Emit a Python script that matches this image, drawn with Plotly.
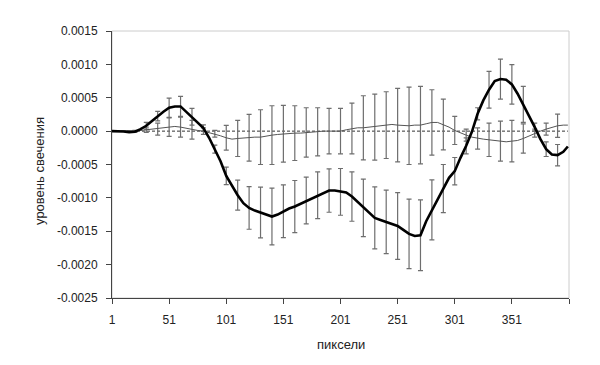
import plotly.graph_objects as go

# pixel positions of the sampled curve points
pixels = [1, 6, 11, 16, 21, 26, 31, 36, 41, 46, 51, 56, 61, 66, 71, 76, 81, 86, 91, 96,
          101, 106, 111, 116, 121, 126, 131, 136, 141, 146, 151, 156, 161, 166, 171, 176, 181, 186, 191, 196,
          201, 206, 211, 216, 221, 226, 231, 236, 241, 246, 251, 256, 261, 266, 271, 276, 281, 286, 291, 296,
          301, 306, 311, 316, 321, 326, 331, 336, 341, 346, 351, 356, 361, 366, 371, 376, 381, 386, 391, 396, 400]

# thick curve (x 1e-4)
thick_e4 = [0, 0, -0.05, -0.15, -0.1, 0.3, 0.8, 1.5, 2.25, 2.9, 3.5, 3.7, 3.7, 2.9, 2.15, 1.3, 0.45, -1.0, -2.7, -4.5,
            -6.7, -8.2, -9.6, -10.8, -11.5, -11.9, -12.2, -12.6, -12.8, -12.5, -12.0, -11.6, -11.3, -10.9, -10.4, -10.0, -9.6, -9.2, -8.9, -8.9,
            -9.1, -9.2, -9.8, -10.6, -11.5, -12.3, -13.0, -13.3, -13.6, -13.8, -14.2, -14.8, -15.4, -15.7, -15.6, -13.5, -11.8, -10.1, -8.6, -7.0,
            -6.0, -4.0, -2.2, -0.1, 2.6, 4.6, 6.2, 7.5, 7.8, 7.7, 7.0, 5.6, 4.0, 2.4, 0.6, -1.2, -2.7, -3.5, -3.6, -3.1, -2.3]

# thin curve (x 1e-4)
thin_e4 = [0, 0, 0, 0, 0, 0.1, 0.2, 0.3, 0.3, 0.5, 0.6, 0.7, 0.6, 0.4, 0.2, 0.1, 0.0, -0.2, -0.4, -0.7,
           -1.0, -1.2, -1.1, -1.0, -1.0, -0.9, -0.9, -0.7, -0.6, -0.5, -0.4, -0.3, -0.3, -0.3, -0.2, -0.1, -0.1, 0.0, 0.0, 0.0,
           0.0, 0.2, 0.4, 0.5, 0.5, 0.6, 0.6, 0.8, 0.9, 1.0, 0.9, 0.8, 0.8, 0.9, 0.9, 1.1, 1.3, 1.3, 1.0, 0.6,
           0.1, -0.3, -0.6, -0.9, -1.1, -1.2, -1.3, -1.4, -1.5, -1.6, -1.5, -1.4, -1.1, -0.7, -0.3, 0.0, 0.3, 0.6, 0.8, 0.9, 0.9]

# error bar half-lengths (x 1e-4) every 10 pixels: 1, 11, ..., 391
thick_err_e4 = [0, 0, 0.1, 0.5, 0.7, 1.45, 1.5, 1.25, 0.5, 0.6, 1.3, 2.25, 3.2, 3.8, 4.25, 3.95, 3.9, 3.5, 3.5, 3.25,
                3.5, 3.7, 4.3, 4.65, 4.75, 5.0, 5.2, 5.3, 4.5, 3.6, 2.05, 1.2, 0.9, 2.75, 3.0, 2.95, 2.7, 0.6, 1.1, 1.6]
thin_err_e4 = [0, 0, 0.1, 0.4, 0.9, 1.4, 1.5, 1.4, 0.5, 0.5, 1.85, 2.7, 3.5, 4.1, 4.4, 4.25, 4.1, 3.7, 3.6, 3.4,
               3.4, 3.8, 4.8, 4.95, 5.0, 5.5, 5.8, 5.8, 4.9, 3.8, 2.1, 0.9, 1.6, 2.5, 3.0, 3.1, 2.2, 0.6, 0.9, 1.75]

y_ticks = [0.0015, 0.0010, 0.0005, 0.0, -0.0005, -0.0010, -0.0015, -0.0020, -0.0025]
x_ticks = [1, 51, 101, 151, 201, 251, 301, 351, 401]
x_labels = ["1", "51", "101", "151", "201", "251", "301", "351", ""]

S = 1e-4
thick = [v * S for v in thick_e4]
thin = [v * S for v in thin_e4]
baseline = [0.0 for _ in pixels]

# points carrying error bars (every other sample -> every 10 pixels)
err_idx = list(range(0, 80, 2))
err_x = [pixels[i] for i in err_idx]
thick_err_y = [thick[i] for i in err_idx]
thin_err_y = [thin[i] for i in err_idx]
thick_err = [v * S for v in thick_err_e4]
thin_err = [v * S for v in thin_err_e4]

FONT = "Liberation Sans, Arial, sans-serif"
ERRC = "#6e6e6e"

fig = go.Figure()

fig.add_trace(go.Scatter(x=pixels, y=baseline, mode="lines",
                         line=dict(color="#333333", width=1, dash="3px,2px"), hoverinfo="skip"))
fig.add_trace(go.Scatter(x=err_x, y=thin_err_y, mode="markers", marker=dict(size=0.1, opacity=0),
                         error_y=dict(type="data", array=thin_err, visible=True, color=ERRC, thickness=1.2, width=2.5)))
fig.add_trace(go.Scatter(x=err_x, y=thick_err_y, mode="markers", marker=dict(size=0.1, opacity=0),
                         error_y=dict(type="data", array=thick_err, visible=True, color=ERRC, thickness=1.2, width=2.5)))
fig.add_trace(go.Scatter(x=pixels, y=thin, mode="lines", line=dict(color="#555555", width=1)))
fig.add_trace(go.Scatter(x=pixels, y=thick, mode="lines", line=dict(color="#000000", width=2.6)))

fig.update_layout(
    width=600, height=365,
    margin=dict(l=112, r=31, t=31, b=67),
    paper_bgcolor="white", plot_bgcolor="white",
    showlegend=False,
    font=dict(family=FONT, size=12, color="#222222"),
    xaxis=dict(range=[1, 401], tickmode="array", tickvals=x_ticks, ticktext=x_labels,
               showgrid=False, zeroline=False, showline=True, linecolor="#444444", linewidth=1,
               ticks="outside", ticklen=5, tickcolor="#444444", ticklabelstandoff=6,
               tickfont=dict(family=FONT, size=12, color="#222222")),
    yaxis=dict(range=[-0.0025, 0.0015], tickmode="array", tickvals=y_ticks,
               ticktext=[f"{v:.4f}" for v in y_ticks],
               showgrid=False, zeroline=False, showline=True, linecolor="#444444", linewidth=1,
               ticks="outside", ticklen=5, tickcolor="#444444", ticklabelstandoff=6,
               tickfont=dict(family=FONT, size=12, color="#222222")),
    shapes=[dict(type="rect", xref="paper", yref="paper", x0=0, x1=1, y0=0, y1=1,
                 line=dict(color="#cccccc", width=1), layer="below")],
    annotations=[
        dict(text="пиксели", xref="paper", yref="paper", x=0.5, y=-0.175, xanchor="center", yanchor="middle",
             showarrow=False, font=dict(family=FONT, size=13, color="#222222")),
        dict(text="уровень свечения", xref="paper", yref="paper", x=-0.159, y=0.477, xanchor="center",
             yanchor="middle", textangle=-90, showarrow=False, font=dict(family=FONT, size=13, color="#222222")),
    ],
)

fig.write_html("out.html", config={"displayModeBar": False},
               post_script="document.body.style.margin='0';document.body.style.padding='0';")
